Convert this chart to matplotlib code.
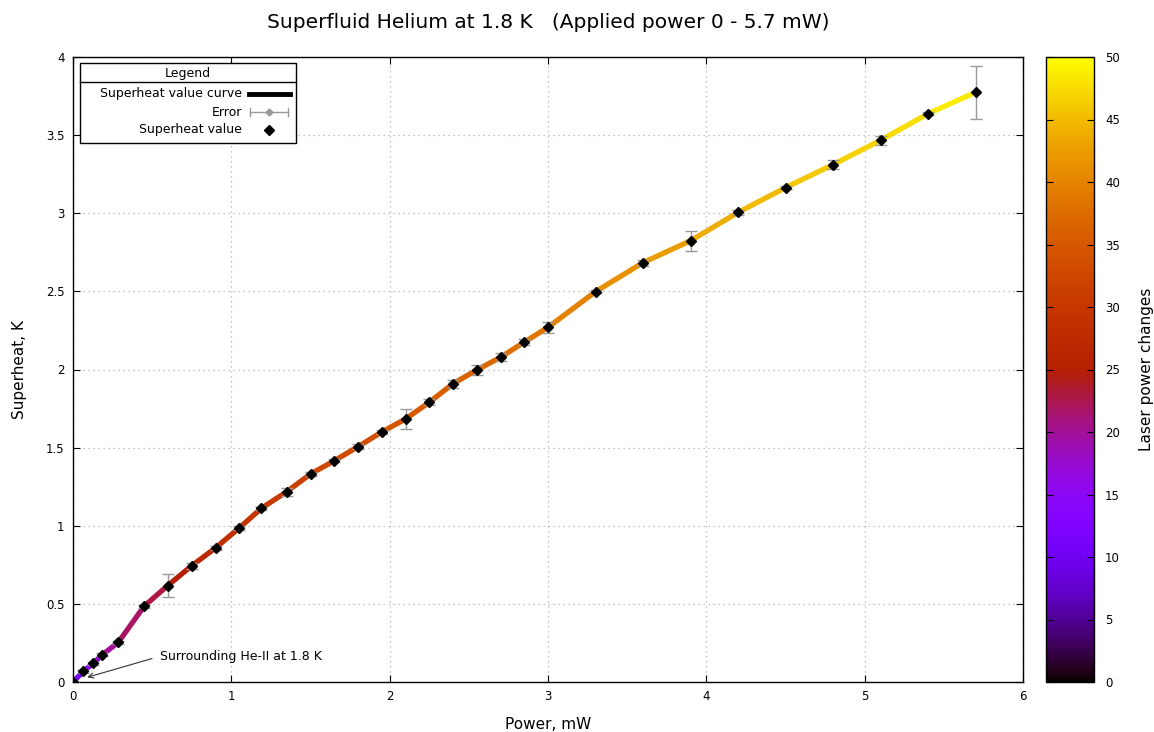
import numpy as np
import matplotlib
matplotlib.use("Agg")
import matplotlib.pyplot as plt
from matplotlib.collections import LineCollection
from matplotlib.lines import Line2D
from matplotlib.patches import Rectangle

# data
power = [0, 0.065, 0.128, 0.185, 0.286, 0.45, 0.598, 0.75, 0.90, 1.05, 1.19, 1.35, 1.50, 1.65,
         1.80, 1.95, 2.10, 2.25, 2.40, 2.55, 2.70, 2.85, 3.00, 3.30, 3.60, 3.90, 4.20, 4.50,
         4.80, 5.10, 5.40, 5.70]
superheat = [0, 0.068, 0.12, 0.174, 0.254, 0.486, 0.617, 0.744, 0.858, 0.986, 1.112, 1.218,
             1.331, 1.416, 1.506, 1.60, 1.683, 1.79, 1.909, 1.997, 2.078, 2.175, 2.27, 2.498,
             2.684, 2.824, 3.005, 3.164, 3.311, 3.467, 3.637, 3.774]
error = [0, 0.01, 0.01, 0.01, 0.01, 0.01, 0.075, 0.02, 0.01, 0.01, 0.01, 0.025, 0.015, 0.01,
         0.015, 0.01, 0.064, 0.02, 0.025, 0.03, 0.025, 0.02, 0.035, 0.01, 0.02, 0.064, 0.015,
         0.01, 0.03, 0.03, 0.01, 0.17]
laser = [10, 13, 16, 19, 21, 22.5, 23.5, 26, 28, 29, 30, 31, 32, 33, 33.5, 34, 35, 35.5, 36,
         37, 37.5, 38, 39, 40.5, 42, 43, 44.5, 45.5, 46.5, 47, 48, 49]
legend_labels = ["Superheat value curve", "Error", "Superheat value"]

W, H = 1154, 732
cmap = plt.get_cmap("gnuplot")
norm = plt.Normalize(0, 50)

fig = plt.figure(figsize=(W / 100, H / 100), dpi=100)
ax = fig.add_axes([73 / W, 1 - 682 / H, 950 / W, 625 / H])
cax = fig.add_axes([1046 / W, 1 - 682 / H, 48 / W, 625 / H])

x = np.array(power)
y = np.array(superheat)
c = np.array(laser)
segs = np.stack([np.column_stack([x[:-1], y[:-1]]), np.column_stack([x[1:], y[1:]])], axis=1)
lc = LineCollection(segs, cmap=cmap, norm=norm, linewidths=3.8, capstyle="round", zorder=2)
lc.set_array((c[:-1] + c[1:]) / 2)
ax.add_collection(lc)

ax.errorbar(x, y, yerr=error, fmt="none", ecolor="#999999", elinewidth=1, capsize=4,
            capthick=1, zorder=3)
ax.plot(x, y, "D", color="black", markersize=5.5, linestyle="none", zorder=4)

ax.set_xlim(0, 6)
ax.set_ylim(0, 4)
ax.set_xticks(np.arange(0, 7, 1))
ax.set_yticks(np.arange(0, 4.01, 0.5))
ax.set_yticklabels(["0", "0.5", "1", "1.5", "2", "2.5", "3", "3.5", "4"])
ax.tick_params(direction="in", top=True, right=True, length=5, labelsize=8.5, pad=6)
ax.grid(True, linestyle=(0, (1, 3)), color="#b0b0b0", linewidth=0.9)
for s in ax.spines.values():
    s.set_linewidth(1)

ax.set_xlabel("Power, mW", fontsize=11, labelpad=10)
ax.set_ylabel("Superheat, K", fontsize=11, labelpad=14)
fig.text(548 / W, 1 - 22 / H, "Superfluid Helium at 1.8 K   (Applied power 0 - 5.7 mW)",
         fontsize=14.5, ha="center", va="center")

ax.annotate("Surrounding He-II at 1.8 K", xy=(0.09, 0.03), xytext=(0.55, 0.165),
            fontsize=9, va="center", ha="left",
            arrowprops=dict(arrowstyle="->", color="#333333", lw=0.8, shrinkA=4, shrinkB=0,
                            relpos=(0, 0.5)))

# legend box, drawn by hand in figure pixels
def fp(px, py):
    return px / W, 1 - py / H

tf = fig.transFigure
x0, y0 = fp(80, 143)
x1, y1 = fp(296, 63)
fig.add_artist(Rectangle((x0, y0), x1 - x0, y1 - y0, transform=tf, facecolor="white",
                         edgecolor="black", lw=1, zorder=5))
fig.add_artist(Line2D([x0, x1], [fp(0, 82)[1]] * 2, transform=tf, color="black", lw=1, zorder=6))
fig.text(*fp(188, 73), "Legend", fontsize=9, ha="center", va="center", zorder=6)
rows = [94, 112, 130]
for lab, ry in zip(legend_labels, rows):
    fig.text(*fp(242, ry), lab, fontsize=9, ha="right", va="center", zorder=6)
fig.add_artist(Line2D([fp(249, 0)[0], fp(290, 0)[0]], [fp(0, rows[0])[1]] * 2, transform=tf,
                      color="black", lw=3.5, zorder=6))
fig.add_artist(Line2D([fp(250, 0)[0], fp(288, 0)[0]], [fp(0, rows[1])[1]] * 2, transform=tf,
                      color="#999999", lw=1, zorder=6))
for cx in (250, 288):
    fig.add_artist(Line2D([fp(cx, 0)[0]] * 2, [fp(0, rows[1] - 4)[1], fp(0, rows[1] + 4)[1]],
                          transform=tf, color="#999999", lw=1, zorder=6))
fig.add_artist(Line2D([fp(269, 0)[0]], [fp(0, rows[1])[1]], transform=tf, marker="D",
                      color="#999999", markersize=3.5, zorder=7))
fig.add_artist(Line2D([fp(269, 0)[0]], [fp(0, rows[2])[1]], transform=tf, marker="D",
                      color="black", markersize=5.5, zorder=7))

sm = plt.cm.ScalarMappable(norm=norm, cmap=cmap)
cb = fig.colorbar(sm, cax=cax, ticks=np.arange(0, 51, 5))
cb.ax.tick_params(direction="in", left=True, right=True, length=5, labelsize=8.5, pad=8)
cb.outline.set_linewidth(1)
cb.set_label("Laser power changes", fontsize=11, labelpad=14)

fig.savefig("out.png", dpi=100)
